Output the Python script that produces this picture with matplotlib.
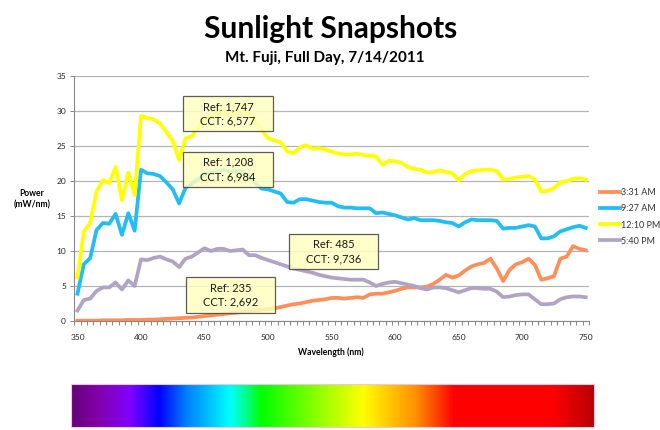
import numpy as np
import matplotlib
matplotlib.use("Agg")
import matplotlib.pyplot as plt
from matplotlib.patches import Rectangle
from matplotlib.colors import LinearSegmentedColormap

plt.rcParams['font.family'] = ['Lato', 'DejaVu Sans']

# Data: wavelength every 5 nm, power in mW/nm
wavelength = np.arange(350, 751, 5)

am_331 = [0.05, 0.05, 0.05, 0.05, 0.1, 0.1, 0.1, 0.1, 0.15, 0.15,
          0.15, 0.2, 0.2, 0.25, 0.3, 0.35, 0.4, 0.45, 0.5, 0.6,
          0.7, 0.8, 0.9, 1.0, 1.1, 1.2, 1.3, 1.4, 1.5, 1.6,
          1.7, 1.8, 2.0, 2.2, 2.4, 2.5, 2.7, 2.9, 3.0, 3.1,
          3.3, 3.3, 3.2, 3.3, 3.4, 3.3, 3.8, 3.9, 3.9, 4.1,
          4.3, 4.6, 4.8, 4.8, 4.8, 4.9, 5.3, 5.9, 6.6, 6.2,
          6.5, 7.2, 7.8, 8.1, 8.3, 8.9, 7.5, 5.7, 7.3, 8.1,
          8.4, 8.9, 8.0, 5.9, 6.1, 6.4, 8.9, 9.2, 10.7, 10.3,
          10.1]

am_927 = [3.9, 8.1, 9.0, 13.0, 14.0, 13.9, 15.3, 12.3, 15.4, 12.9,
          21.6, 21.1, 21.0, 20.7, 19.8, 18.8, 16.8, 19.0, 19.6, 20.3,
          20.9, 21.2, 21.3, 21.6, 21.3, 21.4, 21.5, 20.5, 19.7, 18.9,
          18.8, 18.5, 18.2, 17.0, 16.9, 17.4, 17.4, 17.2, 17.0, 16.9,
          16.9, 16.4, 16.2, 16.2, 16.1, 16.1, 16.1, 15.4, 15.5, 15.3,
          15.1, 14.8, 14.5, 14.7, 14.4, 14.4, 14.4, 14.3, 14.1, 14.0,
          13.5, 14.1, 14.5, 14.4, 14.4, 14.4, 14.3, 13.2, 13.3, 13.3,
          13.5, 13.7, 13.5, 11.8, 11.8, 12.1, 12.8, 13.1, 13.4, 13.6,
          13.3]

pm_1210 = [6.3, 12.8, 14.0, 18.5, 20.1, 19.7, 22.0, 17.3, 21.2, 18.0,
           29.3, 29.0, 28.8, 28.2, 27.0, 25.7, 23.0, 26.1, 26.4, 27.8,
           28.7, 29.2, 29.6, 29.8, 29.4, 29.7, 29.9, 29.6, 28.4, 27.3,
           26.1, 25.8, 25.5, 24.2, 24.0, 24.8, 25.1, 24.6, 24.7, 24.5,
           24.2, 23.9, 23.8, 23.8, 23.9, 23.7, 23.6, 23.5, 22.3, 22.9,
           22.8, 22.6, 22.0, 21.7, 21.6, 21.2, 21.3, 21.5, 21.3, 21.1,
           20.1, 21.0, 21.4, 21.5, 21.6, 21.6, 21.4, 20.2, 20.3, 20.5,
           20.6, 20.7, 20.2, 18.5, 18.6, 19.0, 19.8, 20.0, 20.3, 20.4,
           20.2]

pm_540 = [1.5, 3.0, 3.2, 4.3, 4.8, 4.8, 5.5, 4.5, 5.8, 5.0,
          8.8, 8.7, 9.0, 9.2, 8.8, 8.5, 7.7, 8.9, 9.2, 9.8,
          10.4, 10.0, 10.3, 10.3, 10.0, 10.1, 10.2, 9.4, 9.4, 9.0,
          8.7, 8.4, 8.1, 7.8, 7.5, 7.3, 7.1, 6.9, 6.6, 6.4,
          6.2, 6.1, 6.0, 5.9, 5.9, 5.9, 5.5, 5.0, 5.3, 5.5,
          5.6, 5.4, 5.2, 5.0, 4.7, 4.5, 4.8, 4.8, 4.7, 4.4,
          4.1, 4.4, 4.7, 4.7, 4.6, 4.6, 4.2, 3.4, 3.5, 3.7,
          3.8, 3.8, 3.1, 2.4, 2.4, 2.5, 3.1, 3.4, 3.5, 3.5,
          3.4]

series_labels = ['3:31 AM', '9:27 AM', '12:10 PM', '5:40 PM']
series_colors = ['#FF8F5A', '#22BDF2', '#FFFF00', '#B1A3C6']

box_texts = ['Ref: 1,747\nCCT: 6,577', 'Ref: 1,208\nCCT: 6,984',
             'Ref: 485\nCCT: 9,736', 'Ref: 235\nCCT: 2,692']
# box corners (wavelength, power): left, bottom, right, top
box_extents = [(433.0, 27.1, 503.9, 32.1), (433.0, 19.1, 503.9, 24.2),
               (516.7, 7.4, 586.8, 12.4), (435.2, 1.1, 505.4, 6.3)]

W, H = 660, 430
fig = plt.figure(figsize=(W / 100, H / 100), dpi=100)

ax = fig.add_axes([74.3 / W, 1 - 321 / H, 514.6 / W, 245 / H])
for vals, lab, col in zip([am_331, am_927, pm_1210, pm_540], series_labels, series_colors):
    ax.plot(wavelength, vals, color=col, lw=2.7, label=lab, solid_joinstyle='round')

ax.set_xlim(347.5, 752.5)
ax.set_ylim(0, 35)
ax.set_yticks(np.arange(0, 36, 5))
ax.set_xticks(np.arange(350, 751, 50))
ax.set_xticks(np.arange(347.5, 753, 5), minor=True)
ax.tick_params(axis='x', which='major', length=0, pad=9, labelsize=6, labelcolor='#262626')
ax.tick_params(axis='x', which='minor', length=3, color='#888888', width=0.7)
ax.tick_params(axis='y', length=3, color='#888888', width=0.7, pad=3, labelsize=6,
               labelcolor='#262626')
ax.grid(axis='y', color='#B4B4B4', lw=0.9)
ax.set_axisbelow(True)
for s in ['top', 'right']:
    ax.spines[s].set_visible(False)
for s in ['left', 'bottom']:
    ax.spines[s].set_color('#888888')
    ax.spines[s].set_linewidth(0.8)

# annotation boxes
for txt, (x0, y0, x1, y1) in zip(box_texts, box_extents):
    ax.add_patch(Rectangle((x0, y0), x1 - x0, y1 - y0, facecolor='#FFFFC0',
                           edgecolor='#404040', lw=0.9, alpha=0.85, zorder=5))
    ax.text((x0 + x1) / 2, (y0 + y1) / 2, txt, ha='center', va='center',
            fontsize=8, linespacing=1.35, color='#1A1A1A', zorder=6)

leg = ax.legend(loc='center left', bbox_to_anchor=(600 / W, 1 - 217 / H),
                bbox_transform=fig.transFigure, frameon=False, fontsize=6.5,
                handlelength=2.2, handletextpad=0.15, labelspacing=0.78, borderpad=0,
                borderaxespad=0)
for t in leg.get_texts():
    t.set_color('#333333')

fig.text(331 / W, 1 - 38.3 / H, 'Sunlight Snapshots', ha='center', va='baseline',
         fontsize=21.5, fontweight='bold')
fig.text(324.5 / W, 1 - 61.7 / H, 'Mt. Fuji, Full Day, 7/14/2011', ha='center',
         va='baseline', fontsize=11, fontweight='bold')
fig.text(331 / W, 1 - 352 / H, 'Wavelength (nm)', ha='center', va='center',
         fontsize=6.2, fontweight='bold')
fig.text(32 / W, 1 - 199 / H, 'Power\n(mW/nm)', ha='center', va='center',
         fontsize=6.2, fontweight='bold', linespacing=1.3)

# visible spectrum strip
spec = LinearSegmentedColormap.from_list('spec', [
    (0.0, '#650078'), (0.05, '#8400A8'), (0.112, '#8000FF'), (0.167, '#0000FF'),
    (0.22, '#0080FF'), (0.304, '#00FFFF'), (0.33, '#00FF99'), (0.362, '#00FF00'),
    (0.558, '#FFFF00'), (0.66, '#FF9000'), (0.733, '#FF0000'), (0.92, '#FF0000'),
    (1.0, '#BB0000')])
bax = fig.add_axes([70.5 / W, 1 - 427 / H, 523 / W, 43 / H])
bax.imshow(np.linspace(0, 1, 512)[None, :], aspect='auto', cmap=spec)
bax.set_xticks([])
bax.set_yticks([])
for s in bax.spines.values():
    s.set_color('#E8C8E8')
    s.set_linewidth(0.8)

fig.savefig('out.png', dpi=100)
